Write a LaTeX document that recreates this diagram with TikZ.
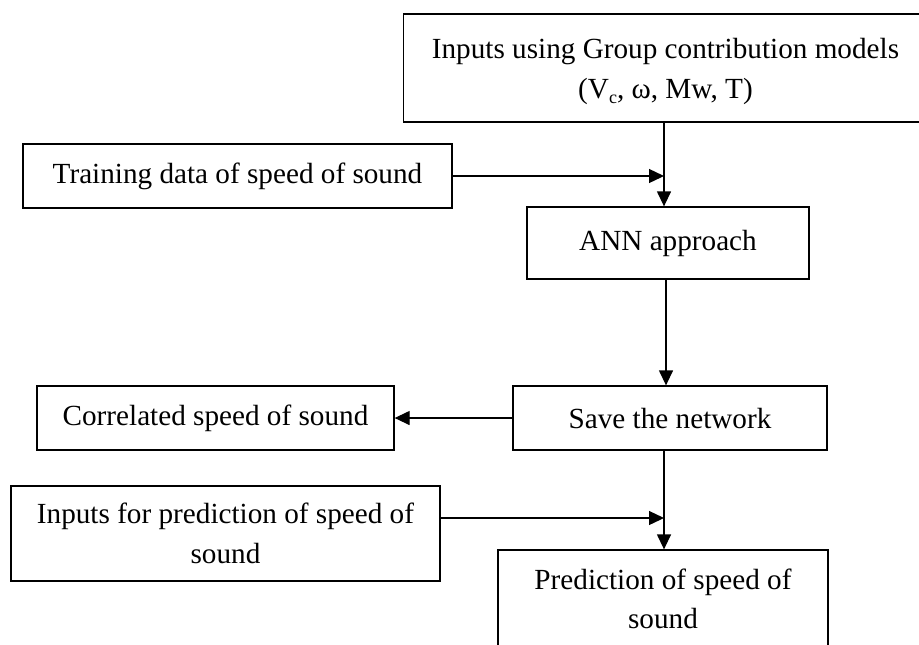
\documentclass[tikz,border=0pt]{standalone}
\usepackage{fontspec}
\setmainfont{Liberation Serif}
\usetikzlibrary{arrows.meta}

\begin{document}
\begin{tikzpicture}[
  x=0.5pt, y=-0.5pt,
  label font/.style={font=\fontsize{14.6}{19.8}\selectfont},
  box/.style={draw, line width=0.65pt, inner sep=0pt, align=center, label font},
  conn/.style={line width=0.65pt},
  arr/.style={conn, -{Triangle[length=7.5pt, width=7pt]}}
]
\useasboundingbox (0,0) rectangle (919,644);
\begin{scope}
\clip (0,0) rectangle (919,644);

% process boxes
\node[box, minimum width=262pt, minimum height=54pt] (b1) at (665.5,68) {};
\node[align=center, inner sep=0pt, label font] (t1) at ([yshift=-1.8pt]b1.center)
  {Inputs using Group contribution models\\(V{\fontsize{9}{9}\selectfont\raisebox{-2.5pt}{c}}, ω, Mw, T)};
\node[box, minimum width=214.5pt, minimum height=32pt] (b2) at (237.5,176)
  {Training data of speed of sound};
\node[box, minimum width=141pt, minimum height=36pt] (b3) at (668,243)
  {ANN approach};
\node[box, minimum width=178.5pt, minimum height=32pt] (b4) at (215.5,418)
  {Correlated speed of sound};
\node[box, minimum width=157pt, minimum height=32pt] (b5) at (670,418)
  {Save the network};
\node[box, minimum width=214.5pt, minimum height=47.5pt] (b6) at (225.5,533.5)
  {Inputs for prediction of speed of\\sound};
\node[box, minimum width=165pt, minimum height=49pt] (b7) at (663,599)
  {Prediction of speed of\\sound};

% junction where the prediction inputs join the main flow
\coordinate (m6) at (664,518);

% connectors
\draw[arr] (b1.south -| 664,0) -- (664,0 |- b3.north);
\draw[arr] (b2.east) -- (b2.east -| m6);
\draw[arr] (b3.south -| 666,0) -- (666,0 |- b5.north);
\draw[arr] (b5.west) -- (b4.east);
\draw[arr] (m6 |- b5.south) -- (m6 |- b7.north);
\draw[arr] (b6.east |- m6) -- (m6);
\end{scope}
\end{tikzpicture}
\end{document}
